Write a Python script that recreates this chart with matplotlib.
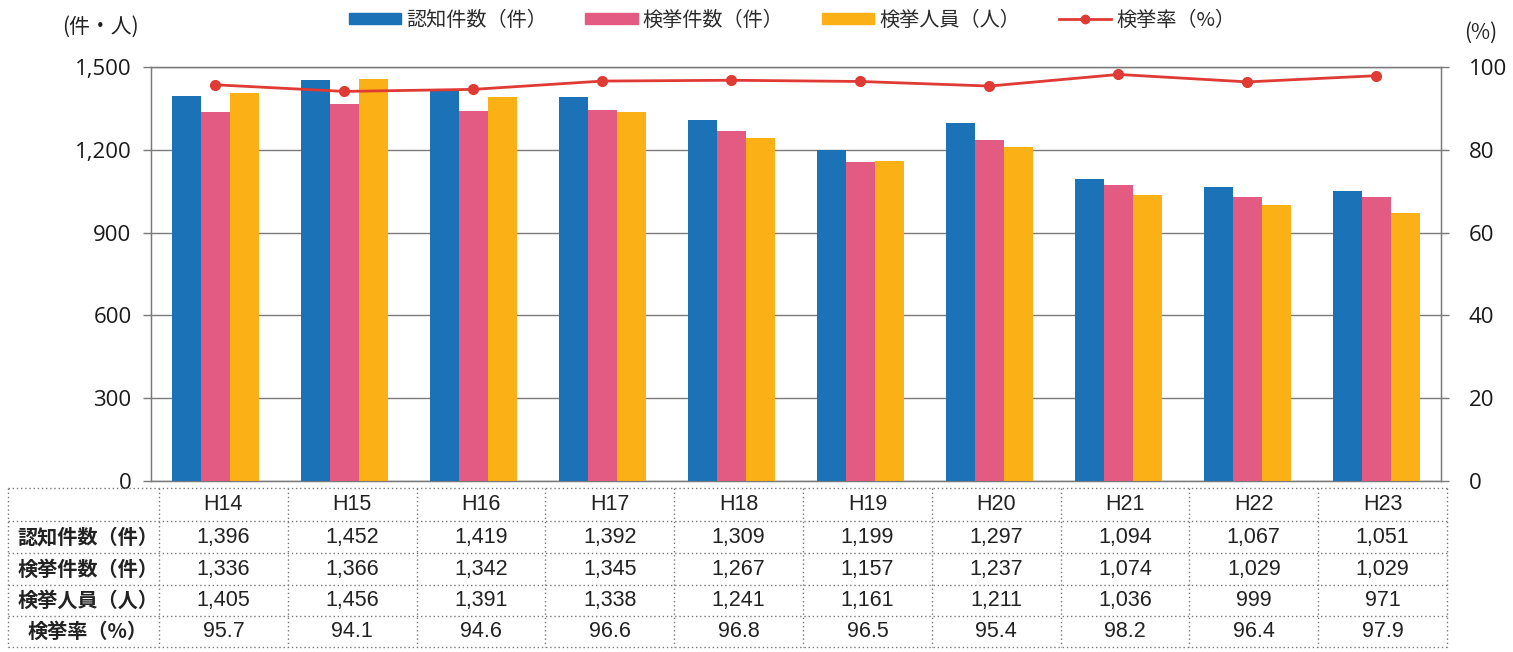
import matplotlib
matplotlib.use("Agg")
import matplotlib.pyplot as plt
import numpy as np
from matplotlib.patches import Patch
from matplotlib.lines import Line2D

years = ["H14", "H15", "H16", "H17", "H18", "H19", "H20", "H21", "H22", "H23"]
ninchi = [1396, 1452, 1419, 1392, 1309, 1199, 1297, 1094, 1067, 1051]
kenkyo = [1336, 1366, 1342, 1345, 1267, 1157, 1237, 1074, 1029, 1029]
jinin = [1405, 1456, 1391, 1338, 1241, 1161, 1211, 1036, 999, 971]
rate = [95.7, 94.1, 94.6, 96.6, 96.8, 96.5, 95.4, 98.2, 96.4, 97.9]
row_labels = ["認知件数（件）", "検挙件数（件）", "検挙人員（人）", "検挙率（%）"]
series_names = ["認知件数（件）", "検挙件数（件）", "検挙人員（人）", "検挙率（%）"]
left_ticks = [0, 300, 600, 900, 1200, 1500]
right_ticks = [0, 20, 40, 60, 80, 100]

C_BLUE = "#1b72b6"
C_PINK = "#e35a82"
C_ORANGE = "#fbb016"
C_RED = "#e03a34"
GRID = "#7a7a7a"

CJK = ["Noto Sans CJK JP", "DejaVu Sans"]
TAB = ["Liberation Sans", "Noto Sans CJK JP"]
TICKF = ["Open Sans", "DejaVu Sans"]

W, H = 1513, 652
fig = plt.figure(figsize=(W / 100, H / 100), dpi=100)
fig.patch.set_facecolor("white")

ax_l, ax_r, ax_t, ax_b = 151, 1441, 67, 481
ax = fig.add_axes([ax_l / W, 1 - ax_b / H, (ax_r - ax_l) / W, (ax_b - ax_t) / H])
x = np.arange(len(years))
bw = 0.225
ax.bar(x - bw, ninchi, bw, color=C_BLUE, zorder=3)
ax.bar(x, kenkyo, bw, color=C_PINK, zorder=3)
ax.bar(x + bw, jinin, bw, color=C_ORANGE, zorder=3)
ax.set_xlim(-0.5, len(years) - 0.5)
ax.set_ylim(0, 1500)
ax.set_yticks(left_ticks)
ax.set_yticklabels([f"{v:,}" for v in left_ticks], fontfamily=TICKF, fontsize=16, color="#1a1a1a")
ax.set_xticks([])
ax.grid(axis="y", color=GRID, linewidth=1.0, zorder=0)
ax.tick_params(axis="y", direction="out", length=6, width=1, color=GRID, pad=8)
for s in ["left", "right", "bottom", "top"]:
    ax.spines[s].set_color(GRID)
    ax.spines[s].set_linewidth(1.0)

ax2 = ax.twinx()
ax2.plot(x, rate, color=C_RED, linewidth=2.0, marker="o", markersize=7, zorder=5)
ax2.set_ylim(0, 100)
ax2.set_yticks(right_ticks)
ax2.set_yticklabels([str(v) for v in right_ticks], fontfamily=TICKF, fontsize=16, color="#1a1a1a")
ax2.tick_params(axis="y", direction="out", length=6, width=1, color=GRID, pad=14)
for s in ["left", "right", "bottom", "top"]:
    ax2.spines[s].set_color(GRID)

fig.text(100 / W, 1 - 27 / H, "(件・人)", fontfamily=CJK, fontsize=15, ha="center", va="center", color="#222222")
fig.text(1481 / W, 1 - 33 / H, "(%)", fontfamily=CJK, fontsize=15, ha="center", va="center", color="#222222")

handles = [Patch(color=C_BLUE), Patch(color=C_PINK), Patch(color=C_ORANGE),
           Line2D([], [], color=C_RED, linewidth=2.0, marker="o", markersize=6)]
leg = fig.legend(handles, series_names, loc="center", bbox_to_anchor=(792 / W, 1 - 20 / H), ncol=4,
                 frameon=False, prop={"family": CJK, "size": 14.5}, handlelength=2.6,
                 handletextpad=0.25, columnspacing=1.9, handleheight=0.45, borderpad=0)
for t in leg.get_texts():
    t.set_color("#2a2a2a")

# table
tab = fig.add_axes([0, 0, 1, 1], zorder=10)
tab.set_xlim(0, W)
tab.set_ylim(H, 0)
tab.axis("off")
tab.patch.set_alpha(0)
t_left, c0, cw = 8, 159, 128.8
row_edges = [488, 521, 553, 585, 616, 647]
col_edges = [t_left] + [c0 + cw * i for i in range(len(years) + 1)]
dot = dict(color="#777777", linewidth=1.0, linestyle=(0, (1, 2)))
for y in row_edges:
    tab.plot([t_left, col_edges[-1]], [y, y], **dot)
for xe in col_edges:
    tab.plot([xe, xe], [row_edges[0], row_edges[-1]], **dot)

rows = [[f"{v:,}" for v in ninchi], [f"{v:,}" for v in kenkyo],
        [f"{v:,}" for v in jinin], [f"{v:.1f}" for v in rate]]
centers = [(row_edges[i] + row_edges[i + 1]) / 2 for i in range(len(row_edges) - 1)]
for j, yr in enumerate(years):
    cx = c0 + cw * (j + 0.5)
    tab.text(cx, centers[0], yr, ha="center", va="center", fontfamily=TAB, fontsize=15.5, color="#222222")
    for i in range(4):
        tab.text(cx, centers[i + 1], rows[i][j], ha="center", va="center", fontfamily=TAB,
                 fontsize=15.5, color="#222222")
for i, lab in enumerate(row_labels):
    tab.text((t_left + c0) / 2 + 4, centers[i + 1], lab, ha="center", va="center", fontfamily=CJK,
             fontsize=14.5, fontweight="bold", color="#222222")

fig.savefig("out.png", dpi=100, facecolor="white")
